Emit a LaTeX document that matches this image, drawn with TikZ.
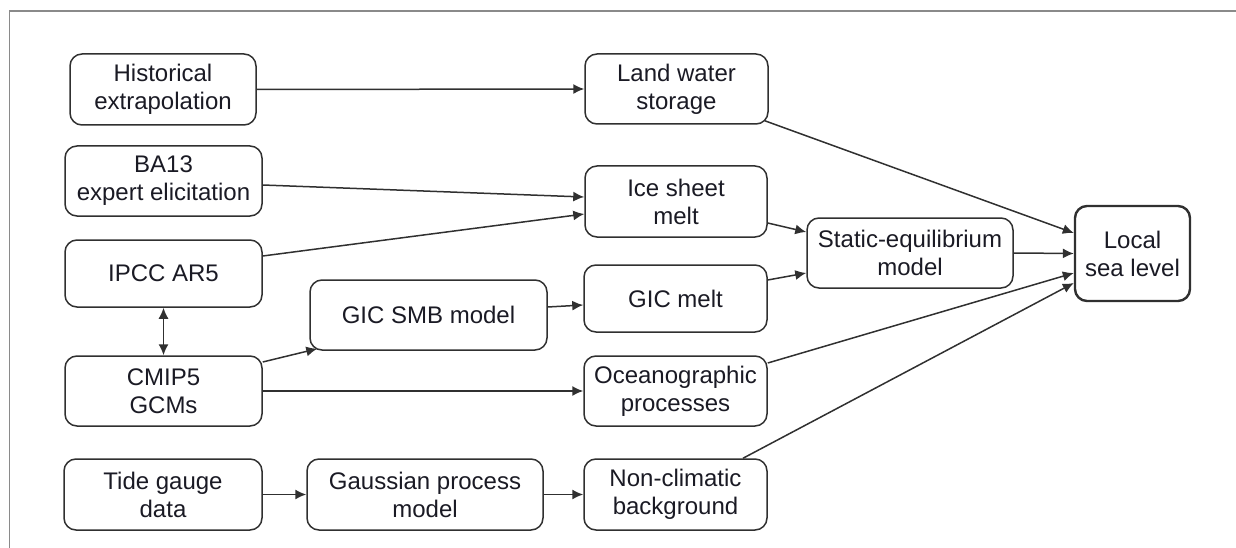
\documentclass[tikz,border=0pt]{standalone}
\usepackage{fontspec}
\setmainfont{Liberation Sans}
\usetikzlibrary{arrows.meta}
\definecolor{linec}{HTML}{303030}
\definecolor{framec}{HTML}{8A8A8A}
\definecolor{textc}{HTML}{1A1A24}
\begin{document}
\begin{tikzpicture}[x=1pt,y=-1pt,
  box/.style={draw=linec,line width=1.5pt,rounded corners=12pt,inner sep=0pt,align=center,
    text=textc,font=\fontsize{24}{28}\selectfont},
  arr/.style={draw=linec,line width=1.5pt,-{Latex[length=11pt,width=10pt]}},
  darr/.style={draw=linec,line width=1.5pt,{Latex[length=11pt,width=10pt]}-{Latex[length=11pt,width=10pt]}}]
\useasboundingbox (0,0) rectangle (1236,548);
\draw[framec,line width=1.5pt] (9.5,548) -- (9.5,11) -- (1236,11);
% left column
\node[box,minimum width=186pt,minimum height=71pt] (hist) at (163,89.5) {Historical\\extrapolation};
\node[box,minimum width=197pt,minimum height=70pt] (ba13) at (163.5,181) {BA13\\expert elicitation};
\node[box,minimum width=197pt,minimum height=67pt] (ipcc) at (163.5,273.5) {IPCC AR5};
\node[box,minimum width=197pt,minimum height=70pt] (cmip) at (163.5,391) {CMIP5\\GCMs};
\node[box,minimum width=198pt,minimum height=71pt] (tide) at (163,494.5) {Tide gauge\\data};
% middle
\node[box,minimum width=237pt,minimum height=70pt] (smb) at (428.5,315) {GIC SMB model};
\node[box,minimum width=236pt,minimum height=71pt] (gauss) at (425,494.5) {Gaussian process\\model};
% right column
\node[box,minimum width=183pt,minimum height=70pt] (land) at (676.5,89) {Land water\\storage};
\node[box,minimum width=182pt,minimum height=71pt] (ice) at (676,201.5) {Ice sheet\\melt};
\node[box,minimum width=183pt,minimum height=67pt] (gicm) at (675.5,298.5) {GIC melt};
\node[box,minimum width=183pt,minimum height=70pt] (ocean) at (675.5,391) {Oceanographic\\processes};
\node[box,minimum width=183pt,minimum height=71pt] (nonc) at (675.5,494.5) {Non-climatic\\background};
\node[box,minimum width=206pt,minimum height=70pt] (static) at (910,253) {Static-equilibrium\\model};
\node[box,line width=2.4pt,minimum width=115pt,minimum height=95pt] (local) at (1132.5,253.5) {Local\\sea level};
% connectors
\draw[arr] (hist.east) -- (land.west);
\draw[arr] ([yshift=-4pt]ba13.east) -- ([yshift=4.5pt]ice.west);
\draw[arr] ([yshift=17.5pt]ipcc.east) -- ([yshift=-12.5pt]ice.west);
\draw[darr] (ipcc.south) -- (cmip.north);
\draw[arr] ([yshift=29pt]cmip.east) -- ([xshift=8pt,yshift=2pt]smb.south west);
\draw[arr] (cmip.east) -- (ocean.west);
\draw[arr] ([yshift=8pt]smb.east) -- ([yshift=-6.5pt]gicm.west);
\draw[arr] (tide.east) -- (gauss.west);
\draw[arr] (gauss.east) -- (nonc.west);
\draw[arr] ([yshift=-21.5pt]ice.east) -- ([yshift=21pt]static.west);
\draw[arr] ([yshift=18.5pt]gicm.east) -- ([yshift=-20pt]static.west);
\draw[arr] ([xshift=-4pt,yshift=4pt]land.south east) -- ([yshift=20.5pt]local.west);
\draw[arr] (static.east) -- (local.west);
\draw[arr] ([yshift=28pt]ocean.east) -- ([yshift=-19.5pt]local.west);
\draw[arr] ([xshift=67.5pt]nonc.north) -- ([yshift=-29.5pt]local.west);
\end{tikzpicture}
\end{document}
